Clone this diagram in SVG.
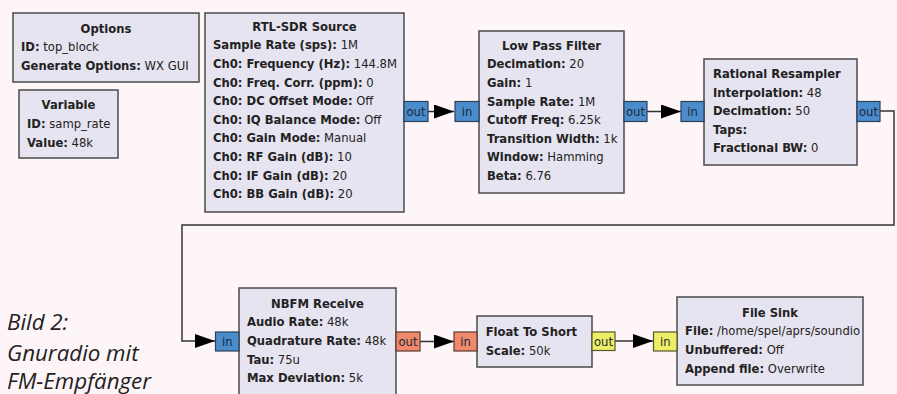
<svg xmlns="http://www.w3.org/2000/svg" width="897" height="394" viewBox="0 0 897 394">
<defs>
<style>
.blk{fill:#e6e4f0;stroke:#4a4a4a;stroke-width:1.5}
.t{font-family:"DejaVu Sans",sans-serif;font-size:11.6px;fill:#222}
.b{font-weight:bold}
.ttl{font-family:"DejaVu Sans",sans-serif;font-size:11.6px;font-weight:bold;fill:#222;text-anchor:middle}
.pb{fill:#4a8ccc;stroke:#2f3f55;stroke-width:1.2}
.po{fill:#f0886c;stroke:#5a3a30;stroke-width:1.2}
.py{fill:#eeee66;stroke:#555530;stroke-width:1.2}
.pt{font-family:"DejaVu Sans",sans-serif;font-size:11.6px;fill:#1c2a3a;text-anchor:middle}
.wire{fill:none;stroke:#333;stroke-width:1.5}
.cap{font-family:"Open Sans","Liberation Sans",sans-serif;font-style:italic;font-size:22.3px;fill:#222}
</style>
<marker id="ah" markerWidth="20" markerHeight="14" refX="20" refY="7" orient="auto" markerUnits="userSpaceOnUse">
<polygon points="0,0 20,7 0,14" fill="#000"/>
</marker>
</defs>
<rect width="897" height="394" fill="#fdf5f8"/>

<g id="connectors">
<path class="wire" d="M428,111.5 H454" marker-end="url(#ah)"/>
<path class="wire" d="M647,111.5 H681" marker-end="url(#ah)"/>
<path class="wire" d="M880,111 H894 V225 H182 V341 H215" marker-end="url(#ah)"/>
<path class="wire" d="M420,341.5 H454" marker-end="url(#ah)"/>
<path class="wire" d="M615,341 H653" marker-end="url(#ah)"/>
</g>

<g id="options">
<rect class="blk" x="13" y="13" width="186" height="69"/>
<text class="ttl" x="106" y="32.5">Options</text>
<text class="t" x="21" y="51"><tspan class="b">ID:</tspan> top_block</text>
<text class="t" x="21" y="69.5"><tspan class="b">Generate Options:</tspan> WX GUI</text>
</g>

<g id="variable">
<rect class="blk" x="19" y="90" width="99" height="68"/>
<text class="ttl" x="68.5" y="109.3">Variable</text>
<text class="t" x="27" y="128.3"><tspan class="b">ID:</tspan> samp_rate</text>
<text class="t" x="27" y="147.3"><tspan class="b">Value:</tspan> 48k</text>
</g>

<g id="rtl_sdr_source">
<rect class="blk" x="205" y="13" width="199" height="199"/>
<text class="ttl" x="304.5" y="31.3">RTL-SDR Source</text>
<text class="t" x="213" y="49.3"><tspan class="b">Sample Rate (sps):</tspan> 1M</text>
<text class="t" x="213" y="67.9"><tspan class="b">Ch0: Frequency (Hz):</tspan> 144.8M</text>
<text class="t" x="213" y="86.5"><tspan class="b">Ch0: Freq. Corr. (ppm):</tspan> 0</text>
<text class="t" x="213" y="105.1"><tspan class="b">Ch0: DC Offset Mode:</tspan> Off</text>
<text class="t" x="213" y="123.7"><tspan class="b">Ch0: IQ Balance Mode:</tspan> Off</text>
<text class="t" x="213" y="142.3"><tspan class="b">Ch0: Gain Mode:</tspan> Manual</text>
<text class="t" x="213" y="160.9"><tspan class="b">Ch0: RF Gain (dB):</tspan> 10</text>
<text class="t" x="213" y="179.5"><tspan class="b">Ch0: IF Gain (dB):</tspan> 20</text>
<text class="t" x="213" y="198.1"><tspan class="b">Ch0: BB Gain (dB):</tspan> 20</text>
<rect class="pb" x="404" y="101.5" width="24" height="20"/>
<text class="pt" x="416" y="116">out</text>
</g>

<g id="low_pass_filter">
<rect class="blk" x="479" y="31" width="145" height="162"/>
<text class="ttl" x="551.5" y="50">Low Pass Filter</text>
<text class="t" x="487" y="68.3"><tspan class="b">Decimation:</tspan> 20</text>
<text class="t" x="487" y="86.9"><tspan class="b">Gain:</tspan> 1</text>
<text class="t" x="487" y="105.5"><tspan class="b">Sample Rate:</tspan> 1M</text>
<text class="t" x="487" y="124.1"><tspan class="b">Cutoff Freq:</tspan> 6.25k</text>
<text class="t" x="487" y="142.7"><tspan class="b">Transition Width:</tspan> 1k</text>
<text class="t" x="487" y="161.3"><tspan class="b">Window:</tspan> Hamming</text>
<text class="t" x="487" y="179.9"><tspan class="b">Beta:</tspan> 6.76</text>
<rect class="pb" x="455" y="101.5" width="24" height="20"/>
<text class="pt" x="467" y="116">in</text>
<rect class="pb" x="624" y="101.5" width="23" height="20"/>
<text class="pt" x="635.5" y="116">out</text>
</g>

<g id="rational_resampler">
<rect class="blk" x="704" y="59" width="153" height="106"/>
<text class="t b" x="713" y="78.3">Rational Resampler</text>
<text class="t" x="713" y="96.6"><tspan class="b">Interpolation:</tspan> 48</text>
<text class="t" x="713" y="115.2"><tspan class="b">Decimation:</tspan> 50</text>
<text class="t" x="713" y="133.8"><tspan class="b">Taps:</tspan></text>
<text class="t" x="713" y="152.4"><tspan class="b">Fractional BW:</tspan> 0</text>
<rect class="pb" x="681" y="101.5" width="23" height="20"/>
<text class="pt" x="692.5" y="116">in</text>
<rect class="pb" x="857" y="101.5" width="23" height="20"/>
<text class="pt" x="868.5" y="116">out</text>
</g>

<g id="nbfm_receive">
<rect class="blk" x="239" y="288" width="157" height="112"/>
<text class="ttl" x="317.5" y="307.6">NBFM Receive</text>
<text class="t" x="247" y="326.3"><tspan class="b">Audio Rate:</tspan> 48k</text>
<text class="t" x="247" y="344.9"><tspan class="b">Quadrature Rate:</tspan> 48k</text>
<text class="t" x="247" y="363.5"><tspan class="b">Tau:</tspan> 75u</text>
<text class="t" x="247" y="382.1"><tspan class="b">Max Deviation:</tspan> 5k</text>
<rect class="pb" x="215.5" y="332" width="23.5" height="19"/>
<text class="pt" x="227.2" y="346">in</text>
<rect class="po" x="396" y="332" width="24" height="19"/>
<text class="pt" x="408" y="346">out</text>
</g>

<g id="float_to_short">
<rect class="blk" x="477" y="316" width="115" height="51"/>
<text class="t b" x="485.7" y="336">Float To Short</text>
<text class="t" x="485.7" y="355"><tspan class="b">Scale:</tspan> 50k</text>
<rect class="po" x="454" y="332" width="23" height="19"/>
<text class="pt" x="465.5" y="346">in</text>
<rect class="py" x="592" y="332" width="23" height="18.5"/>
<text class="pt" x="603.5" y="346">out</text>
</g>

<g id="file_sink">
<rect class="blk" x="677" y="297" width="186" height="88"/>
<text class="ttl" x="770" y="316.6">File Sink</text>
<text class="t" x="685" y="335"><tspan class="b">File:</tspan> /home/spel/aprs/soundio</text>
<text class="t" x="685" y="354"><tspan class="b">Unbuffered:</tspan> Off</text>
<text class="t" x="685" y="373"><tspan class="b">Append file:</tspan> Overwrite</text>
<rect class="py" x="653.5" y="332" width="23.5" height="19"/>
<text class="pt" x="665.2" y="346">in</text>
</g>

<g id="caption">
<text class="cap" x="7" y="330">Bild 2:</text>
<text class="cap" x="7" y="360.5">Gnuradio mit</text>
<text class="cap" x="7" y="388.5">FM-Empfänger</text>
</g>
</svg>
